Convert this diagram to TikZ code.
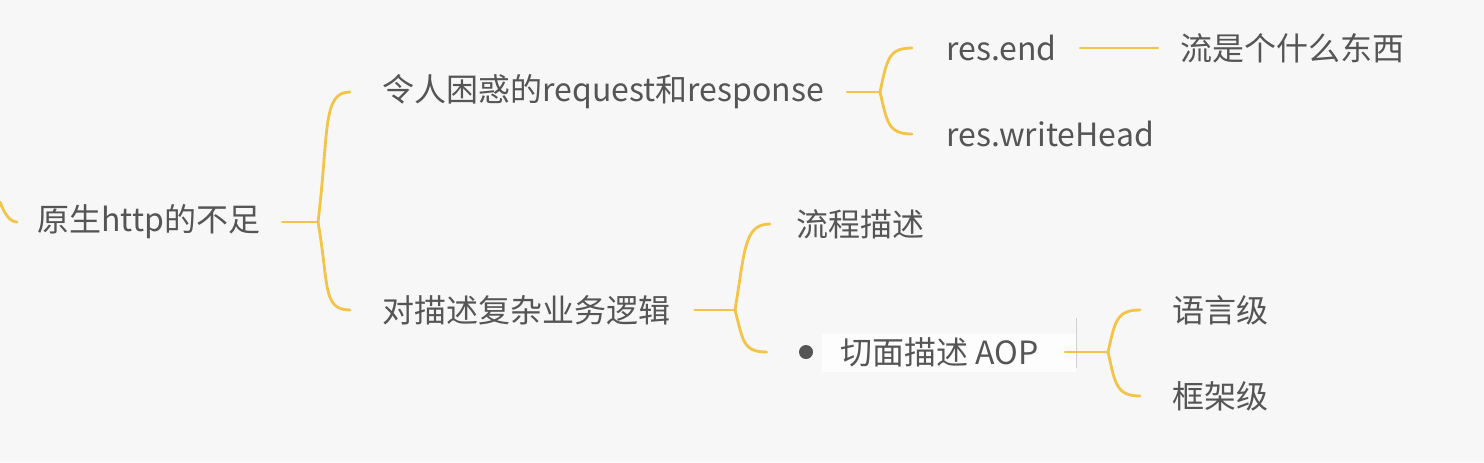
\documentclass[tikz,border=0pt]{standalone}
\usepackage{fontspec}
\setmainfont{Noto Sans CJK SC}
\usetikzlibrary{calc}
\definecolor{bg}{HTML}{F7F7F7}
\definecolor{txt}{HTML}{555555}
\definecolor{ln}{HTML}{F4C448}
\begin{document}
\begin{tikzpicture}[x=0.5pt,y=0.5pt,
  t/.style={anchor=west,inner sep=0pt,text=txt,font=\fontsize{16pt}{19pt}\selectfont},
  br/.style={draw=ln,line width=1.4pt,line cap=round}]
\useasboundingbox[fill=bg] (0,0) rectangle (1484,-462);
% nodes
\node[t] (root) at (37,-222) {原生http的不足};
\node[t] (c1) at (382,-92) {令人困惑的request和response};
\node[t] (c2) at (382,-310) {对描述复杂业务逻辑};
\node[t] (re) at (946,-48) {res.end};
\node[t] (st) at (1180,-48) {流是个什么东西};
\node[t] (rw) at (946,-134) {res.writeHead};
\node[t] (lc) at (796,-224) {流程描述};
\fill[white!70!bg] (822,-334) rectangle (1076,-372);
\node[circle,fill=txt,inner sep=0pt,minimum size=7] (bul) at (806,-352) {};
\node[t] (aop) at (840,-352) {切面描述 AOP};
\draw[black!18,line width=0.4pt] (1076,-318) -- (1076,-368);
\node[t] (ly) at (1172,-310) {语言级};
\node[t] (kj) at (1172,-396) {框架级};
% junctions
\coordinate (in0) at (17,-222);
\coordinate (pre) at (0,-202);
\coordinate (j1) at (318,-222);
\coordinate (j2) at (880,-92);
\coordinate (j3) at (735,-310);
\coordinate (j4) at (1108,-352);
% left stub
\draw[br] (pre) .. controls +(4,-10) and +(-8,0) .. (in0);
% root bracket
\draw[br] ($(root.east)+(22,0)$) -- (j1);
\draw[br] (j1) .. controls +(11,90) and +(-28,0) .. ($(c1.west)+(-32,0)$);
\draw[br] (j1) .. controls +(11,-62) and +(-28,0) .. ($(c2.west)+(-32,0)$);
% c1 bracket
\draw[br] ($(c1.east)+(23,0)$) -- (j2);
\draw[br] (j2) .. controls +(7,32) and +(-24,0) .. ($(re.west)+(-34,0)$);
\draw[br] (j2) .. controls +(7,-30) and +(-24,0) .. ($(rw.west)+(-34,0)$);
\draw[br] ($(re.east)+(23,0)$) -- ($(st.west)+(-22,0)$);
% c2 bracket
\draw[br] ($(c2.east)+(24,0)$) -- (j3);
\draw[br] (j3) .. controls +(10,60) and +(-26,0) .. ($(lc.west)+(-26,0)$);
\draw[br] (j3) .. controls +(8,-30) and +(-24,0) .. ($(bul.west)+(-32,0)$);
% aop bracket
\draw[br] ($(aop.east)+(26,0)$) -- (j4);
\draw[br] (j4) .. controls +(7,30) and +(-24,0) .. ($(ly.west)+(-32,0)$);
\draw[br] (j4) .. controls +(7,-31) and +(-24,0) .. ($(kj.west)+(-32,0)$);
\end{tikzpicture}
\end{document}
